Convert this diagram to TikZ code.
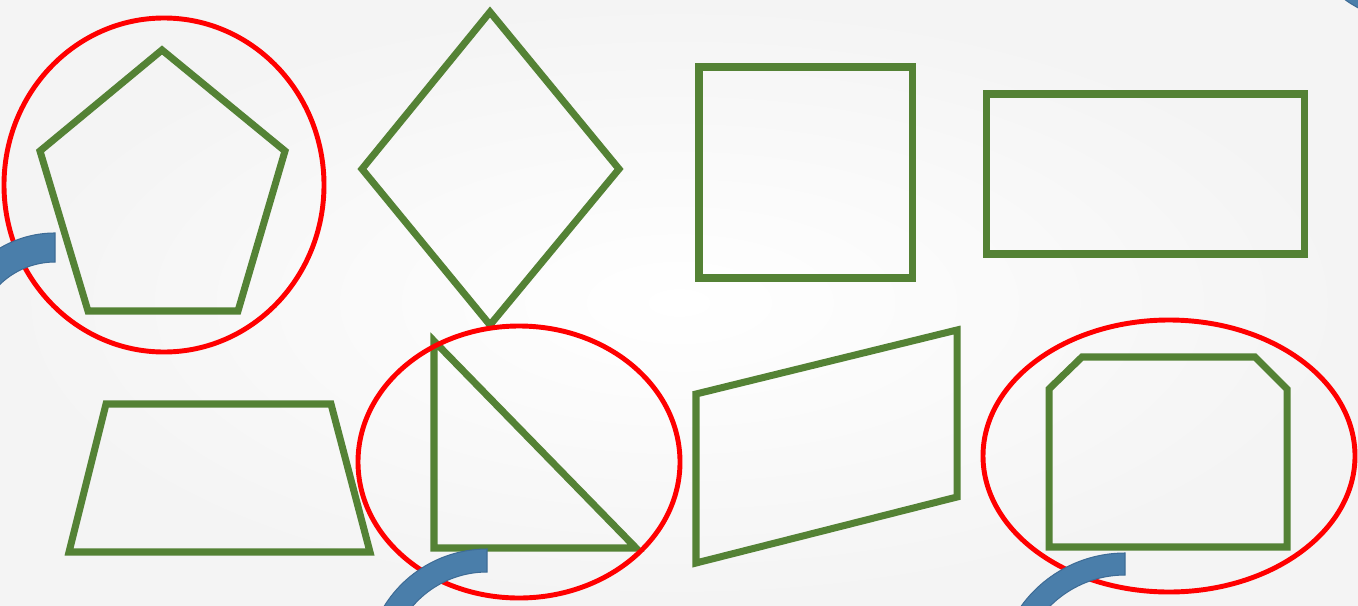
\documentclass[tikz,border=0pt]{standalone}
\usepackage{tikz}

\definecolor{shapegreen}{RGB}{84,130,53}
\definecolor{arcblue}{RGB}{74,126,170}
\definecolor{arcedge}{RGB}{62,108,150}
\definecolor{pagegray}{RGB}{244,244,244}

\begin{document}
\begin{tikzpicture}[
    x=0.02cm, y=-0.02cm,
    shapeline/.style={draw=shapegreen, line width=4pt, line join=miter},
    ringmark/.style={draw=red, line width=2.8pt},
    bluearc/.style={fill=arcblue, draw=arcedge, line width=0.6pt}
]
\useasboundingbox (0,0) rectangle (1358,605);
\shade[inner color=white, outer color=pagegray] (0,0) rectangle (1358,605);
\clip (0,0) rectangle (1358,605);

% top row
\draw[shapeline] (162,50) -- (285,151) -- (238,311) -- (88,311) -- (40,151) -- cycle;
\draw[shapeline] (490,12) -- (619,169) -- (490,325) -- (362,169) -- cycle;
\draw[shapeline] (699,67) rectangle (912,278);
\draw[shapeline] (986,94) rectangle (1304,254);

% bottom row
\draw[shapeline] (106,404) -- (331,404) -- (370,552) -- (69,552) -- cycle;
\draw[shapeline] (434,341) -- (636,548) -- (434,548) -- cycle;
\draw[shapeline] (696,394) -- (957,330) -- (957,497) -- (696,563) -- cycle;
\draw[shapeline] (1082,357) -- (1255,357) -- (1287,389) -- (1287,547)
    -- (1049,547) -- (1049,389) -- cycle;

% red rings
\draw[ringmark] (164,185) ellipse [x radius=160, y radius=167];
\draw[ringmark] (519,462) ellipse [x radius=161, y radius=136];
\draw[ringmark] (1169,456) ellipse [x radius=186, y radius=136];

% blue arcs
\fill[bluearc] (55,233) arc (270:215:108) -- ([shift={(55,341)}]215:79) arc (215:270:79) -- cycle;
\fill[bluearc] (487,549) arc (270:200:121) -- ([shift={(487,670)}]200:98) arc (200:270:98) -- cycle;
\fill[bluearc] (1125,553) arc (270:200:128) -- ([shift={(1125,681)}]200:106) arc (200:270:106) -- cycle;
\fill[bluearc] (1343,-2) .. controls (1348,2) .. (1360,9) -- (1360,-2) -- cycle;
\end{tikzpicture}
\end{document}
